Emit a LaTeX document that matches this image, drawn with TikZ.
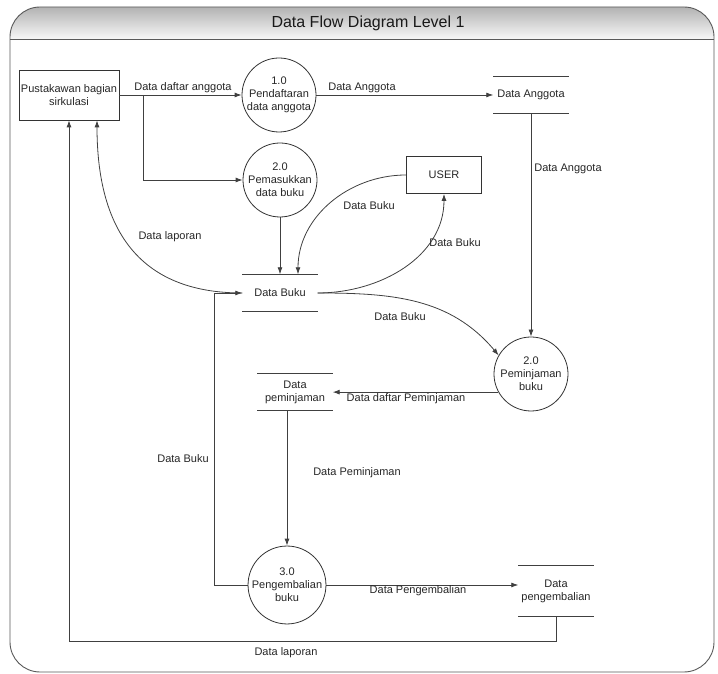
\documentclass[tikz,border=0pt]{standalone}
\usepackage{fontspec}
\setmainfont{Liberation Sans}
\usetikzlibrary{arrows.meta}

\begin{document}
\begin{tikzpicture}[x=1pt,y=1pt,
	every node/.style={font=\fontsize{11}{13}\selectfont, text=black!85},
	ent/.style={draw=black!80, line width=0.8pt, rectangle, align=center, inner sep=0},
	proc/.style={draw=black!80, line width=0.8pt, circle, align=center, inner sep=0, minimum size=74},
	dstore/.style={align=center, inner sep=0, minimum width=75, minimum height=37},
	line/.style={draw=black!75, line width=0.8pt},
	dflow/.style={line, -{Latex[length=7pt,width=5pt]}},
	frame/.style={draw=black!65, line width=0.9pt}]
		\useasboundingbox (0,0) rectangle (718,674);
		% frame with shaded header
		\begin{scope}
			\clip[rounded corners=30] (10,667) rectangle (714,2);
			\shade[top color=black!30, bottom color=black!3] (10,667) rectangle (714,635);
		\end{scope}
		\draw[frame, rounded corners=30] (10,667) rectangle (714,2);
		\draw[frame] (10,635) -- (714,635);
		\node (title) at (368,651) [font=\fontsize{16}{19}\selectfont, text=black!90] {Data Flow Diagram Level 1};
		% external entities
		\node (pustakawan) at (69,579) [ent, minimum width=100, minimum height=50] {Pustakawan bagian\\sirkulasi};
		\node (user) at (444,499) [ent, minimum width=75, minimum height=37] {USER};
		% processes
		\node (p1) at (279,579) [proc] {1.0\\Pendaftaran\\data anggota};
		\node (p2) at (280,494) [proc] {2.0\\Pemasukkan\\data buku};
		\node (pinjam) at (531,300) [proc] {2.0\\Peminjaman\\buku};
		\node (p3) at (287,89) [proc] {3.0\\Pengembalian\\buku};
		% data stores
		\node (dsAnggota) at (531,579) [dstore] {Data Anggota};
		\node (dsBuku) at (280,381) [dstore] {Data Buku};
		\node (dsPinjam) at (295,282) [dstore] {Data\\peminjaman};
		\node (dsKembali) at (556,83) [dstore, minimum height=50] {Data\\pengembalian};
		\foreach \s in {dsAnggota,dsBuku,dsPinjam,dsKembali}
			\draw[line] (\s.north west) -- (\s.north east) (\s.south west) -- (\s.south east);
		% flows
		\coordinate (split) at (143,579);
		\draw[dflow] (pustakawan.east) -- (p1.west);
		\draw[dflow] (split) |- (p2.west);
		\draw[dflow] (p1.east) -- (dsAnggota.west);
		\draw[dflow] (dsAnggota.south) -- (pinjam.north);
		\draw[dflow] (p2.south) -- (dsBuku.north);
		\draw[dflow] (user.west) to[out=180,in=90] ([xshift=18pt]dsBuku.north);
		\draw[dflow] (dsBuku.east) to[out=0,in=-90] (user.south);
		\draw[dflow] (dsBuku.east) to[out=0,in=130] (pinjam.150);
		\draw[dflow] (dsBuku.west) to[out=180,in=-90,looseness=1.2] ([xshift=28pt]pustakawan.south);
		\draw[dflow] (pinjam.209) -- (pinjam.209 -| dsPinjam.east);
		\draw[dflow] (dsPinjam.south -| p3.north) -- (p3.north);
		\draw[dflow] (p3.west) -- ++(-33,0) |- (dsBuku.west);
		\draw[dflow] (p3.east) -- (p3.east -| dsKembali.west);
		\draw[dflow] (dsKembali.south) -- ++(0,-25) -| (pustakawan.south);
		% flow labels
		\node (lDaftarAnggota) at (183,586) {Data daftar anggota};
		\node (lAnggota1) at (362,586) {Data Anggota};
		\node (lAnggota2) at (568,505) {Data Anggota};
		\node (lBuku1) at (369,468) {Data Buku};
		\node (lBuku2) at (455,431) {Data Buku};
		\node (lLaporan1) at (170,437) {Data laporan};
		\node (lBuku3) at (400,357) {Data Buku};
		\node (lDaftarPinjam) at (406,275) {Data daftar Peminjaman};
		\node (lPinjam) at (357,201) {Data Peminjaman};
		\node (lBuku4) at (183,215) {Data Buku};
		\node (lKembali) at (418,83) {Data Pengembalian};
		\node (lLaporan2) at (286,21) {Data laporan};
	\end{tikzpicture}
\end{document}
